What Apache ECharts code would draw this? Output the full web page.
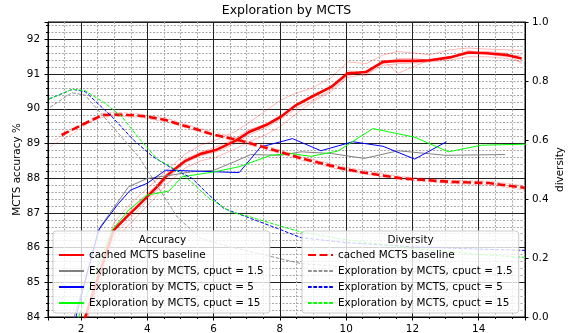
<!DOCTYPE html>
<html><head><meta charset="utf-8">
<script src="https://cdn.jsdelivr.net/npm/echarts@6/dist/echarts.min.js"></script>
<style>html,body{margin:0;padding:0;background:#fff}#c{width:568px;height:333px}</style>
</head><body><div id="c"></div>
<script>
// ---------- data ----------
const chartTitle = 'Exploration by MCTS';
const seriesNames = ['cached MCTS baseline', 'Exploration by MCTS, cpuct = 1.5', 'Exploration by MCTS, cpuct = 5', 'Exploration by MCTS, cpuct = 15'];

// accuracy (left axis)
const baselineAccX = [2.09,2.98,3.33,3.64,3.99,4.29,4.55,4.85,5.15,5.61,6.06,6.67,7.07,7.58,8.03,8.48,8.99,9.55,10.05,10.61,11.11,11.57,12.12,12.52,13.13,13.69,14.24,14.85,15.30];
const baselineAccY = [83.9,86.50,86.84,87.13,87.46,87.75,88.04,88.28,88.50,88.70,88.81,89.08,89.33,89.53,89.77,90.10,90.36,90.63,91.02,91.06,91.35,91.38,91.38,91.40,91.48,91.62,91.60,91.55,91.45];
const run1AccY = [83.95,86.7,87.1,87.4,87.7,87.95,88.2,88.45,88.7,88.95,89.1,89.35,89.6,89.95,90.25,90.45,90.6,90.9,91.35,91.3,91.55,91.65,91.6,91.55,91.7,91.75,91.72,91.7,91.68];
const run2AccY = [83.7,86.2,86.55,86.85,87.2,87.5,87.8,88.05,88.3,88.5,88.6,88.85,89.05,89.25,89.5,89.85,90.2,90.5,90.9,91.0,91.25,91.3,91.32,91.35,91.4,91.5,91.5,91.45,91.35];
const run3AccY = [83.85,86.45,86.9,87.25,87.55,87.8,88.1,88.3,88.55,88.75,88.9,89.15,89.4,89.55,89.8,90.1,90.35,90.6,91.1,90.95,91.4,91.02,91.25,91.4,91.5,91.6,91.65,91.6,91.3];
const run4AccY = [83.8,86.35,86.7,87.0,87.35,87.65,87.95,88.2,88.45,88.65,88.75,89.0,89.25,89.45,89.7,90.0,90.25,90.55,90.95,91.1,91.3,91.45,91.45,91.38,91.45,91.68,91.58,91.5,91.55];

const grayAccX = [1.76,2.58,3.43,3.99,4.80,5.30,6.01,6.62,7.12,8.03,8.64,9.55,10.55,11.57,12.98,14.80];
const grayAccY = [83.9,86.6,87.75,87.99,88.10,88.18,88.23,88.47,88.68,88.66,88.76,88.71,88.57,88.79,88.66,88.68];
const blueAccX = [1.79,2.52,3.13,3.48,3.99,4.55,5.30,6.77,7.42,8.03,8.38,9.24,10.20,11.11,12.07,13.03];
const blueAccY = [83.8,86.50,87.27,87.65,87.85,88.23,88.21,88.16,88.90,89.05,89.14,88.79,89.05,88.92,88.55,89.05];
const greenAccX = [1.88,2.93,3.43,3.99,4.65,5.05,6.01,6.77,7.73,8.33,8.94,9.75,10.81,12.07,13.09,14.09,15.45];
const greenAccY = [83.9,86.5,87.08,87.51,87.63,88.04,88.18,88.33,88.66,88.71,88.63,88.78,89.43,89.18,88.76,88.95,88.98];

// diversity (right axis)
const baselineDivX = [1.41,2.0,2.63,3.0,3.64,4.0,4.55,5.0,5.5,6.0,6.73,7.58,8.64,9.85,10.5,11.67,13.18,14.3,15.4];
const baselineDivY = [0.617,0.650,0.684,0.686,0.684,0.679,0.668,0.652,0.636,0.618,0.600,0.574,0.538,0.504,0.490,0.470,0.458,0.454,0.438];
const run1DivX = [1.06,1.5,2.0,2.63,3.0,3.64,4.55,5.5,6.73,7.58,8.64,9.85,11.67,13.18,14.3,15.4];
const run1DivY = [0.577,0.605,0.640,0.690,0.694,0.690,0.675,0.642,0.606,0.580,0.545,0.510,0.476,0.464,0.460,0.445];
const run2DivX = [1.2,1.6,2.0,2.63,3.0,3.64,4.55,5.5,6.73,7.58,8.64,9.85,11.67,13.18,14.3,15.4];
const run2DivY = [0.600,0.625,0.650,0.676,0.680,0.678,0.662,0.630,0.594,0.568,0.532,0.498,0.465,0.452,0.448,0.430];
const grayDivX = [1.06,1.72,2.12,3.74,4.90,5.61,6.42,8.64,10.5,12.5,14.8];
const grayDivY = [0.711,0.760,0.752,0.543,0.339,0.266,0.240,0.181,0.165,0.152,0.145];
const blueDivX = [1.03,1.74,2.12,2.93,3.58,4.15,4.65,5.35,5.81,6.31,7.12,7.93,8.64,10.0,12.0,14.0,15.4];
const blueDivY = [0.739,0.772,0.764,0.679,0.600,0.545,0.510,0.470,0.419,0.368,0.334,0.300,0.269,0.252,0.238,0.230,0.226];
const greenDivX = [1.03,1.74,2.12,2.73,3.23,3.79,4.3,5.0,5.45,5.81,6.52,7.12,7.93,8.64,10.0,12.0,14.0,15.4];
const greenDivY = [0.739,0.772,0.767,0.724,0.679,0.600,0.535,0.490,0.445,0.407,0.356,0.339,0.311,0.288,0.262,0.232,0.212,0.202];

// ---------- chart ----------
const FONT = 'DejaVu Sans';
const FS = 10.4;
const pts = (xs, ys) => xs.map((x, i) => [x, ys[i]]);
const DIV = 'D: ';
const pink = 'rgba(255,0,0,0.28)';

function line(name, xs, ys, color, width, type, yAxisIndex, z) {
  return {
    name, type: 'line', data: pts(xs, ys), yAxisIndex, xAxisIndex: 0,
    symbol: 'none', showSymbol: false, silent: true, z: z,
    lineStyle: { color, width, type, cap: 'butt' }, itemStyle: { color },
    emphasis: { disabled: true }
  };
}

const series = [
  line('run1 acc', baselineAccX, run1AccY, pink, 1, 'solid', 0, 2),
  line('run2 acc', baselineAccX, run2AccY, pink, 1, 'solid', 0, 2),
  line('run3 acc', baselineAccX, run3AccY, pink, 1, 'solid', 0, 2),
  line('run4 acc', baselineAccX, run4AccY, pink, 1, 'solid', 0, 2),
  line('run1 div', run1DivX, run1DivY, pink, 1, [4, 1.6], 1, 2),
  line('run2 div', run2DivX, run2DivY, pink, 1, [4, 1.6], 1, 2),
  line(seriesNames[0], baselineAccX, baselineAccY, '#ff0000', 2.6, 'solid', 0, 3),
  line(seriesNames[1], grayAccX, grayAccY, '#808080', 1, 'solid', 0, 3),
  line(seriesNames[2], blueAccX, blueAccY, '#0000ff', 1, 'solid', 0, 3),
  line(seriesNames[3], greenAccX, greenAccY, '#00ff00', 1, 'solid', 0, 3),
  line(DIV + seriesNames[0], baselineDivX, baselineDivY, '#ff0000', 2.6, [8, 3.5], 1, 3),
  line(DIV + seriesNames[1], grayDivX, grayDivY, '#909090', 1, [3.7, 1.6], 1, 3),
  line(DIV + seriesNames[2], blueDivX, blueDivY, '#0000ff', 1, [3.7, 1.6], 1, 3),
  line(DIV + seriesNames[3], greenDivX, greenDivY, '#00ff00', 1, [3.7, 1.6], 1, 3)
];

const legendCommon = {
  orient: 'vertical', top: 231, itemWidth: 25, itemHeight: 12, itemGap: 4,
  padding: [18, 6, 4, 5], backgroundColor: 'rgba(255,255,255,0.8)',
  borderColor: '#cccccc', borderWidth: 1, borderRadius: 3, selectedMode: false,
  itemStyle: { color: 'rgba(0,0,0,0)', borderColor: 'rgba(0,0,0,0)', borderWidth: 0, opacity: 0 },
  textStyle: { fontSize: FS, color: '#000', fontFamily: FONT, lineHeight: 12 },
  formatter: n => n.replace(DIV, ''), z: 20
};

const majorGrid = { show: true, lineStyle: { color: '#222', width: 1, type: 'solid' } };
const minorGrid = { show: true, lineStyle: { color: '#a8a8a8', width: 1, type: [2, 1.5] } };
const labelStyle = { fontSize: FS, color: '#000', fontFamily: FONT };

const option = {
  animation: false,
  backgroundColor: '#fff',
  grid: { left: 48, right: 43, top: 22, bottom: 16, show: true, borderColor: '#000', borderWidth: 1, backgroundColor: 'transparent', containLabel: false, outerBoundsMode: 'none' },
  xAxis: [{
    type: 'value', min: 1, max: 15.4, splitNumber: 7,
    axisLine: { show: true, onZero: false, lineStyle: { color: '#000', width: 1 } },
    axisTick: { show: true, length: 3.5, lineStyle: { color: '#000' } },
    minorTick: { show: true, splitNumber: 4, length: 2, lineStyle: { color: '#000' } },
    axisLabel: Object.assign({ margin: 7.5, formatter: v => (Math.abs(v % 2) < 1e-9 ? String(v) : '') }, labelStyle),
    splitLine: majorGrid, minorSplitLine: minorGrid
  }],
  yAxis: [{
    type: 'value', position: 'left', min: 84, max: 92.5, splitNumber: 8,
    name: 'MCTS accuracy %', nameLocation: 'middle', nameGap: 26, nameRotate: 90, nameMoveOverlap: false,
    nameTextStyle: { fontSize: FS, color: '#000', fontFamily: FONT },
    axisLine: { show: true, lineStyle: { color: '#000', width: 1 } },
    axisTick: { show: true, length: 3.5, lineStyle: { color: '#000' } },
    minorTick: { show: true, splitNumber: 5, length: 2, lineStyle: { color: '#000' } },
    axisLabel: Object.assign({ margin: 8, formatter: v => (Math.abs(v - Math.round(v)) < 1e-9 ? String(Math.round(v)) : '') }, labelStyle),
    splitLine: majorGrid, minorSplitLine: minorGrid
  }, {
    type: 'value', position: 'right', min: 0, max: 1, interval: 0.2,
    name: 'diversity', nameLocation: 'middle', nameGap: 30, nameRotate: 90, nameMoveOverlap: false,
    nameTextStyle: { fontSize: FS, color: '#000', fontFamily: FONT },
    axisLine: { show: true, lineStyle: { color: '#000', width: 1 } },
    axisTick: { show: true, length: 3.5, lineStyle: { color: '#000' } },
    axisLabel: Object.assign({ margin: 7, formatter: v => v.toFixed(1) }, labelStyle),
    splitLine: { show: false }
  }],
  legend: [
    Object.assign({ left: 53, data: seriesNames.slice() }, legendCommon),
    Object.assign({ left: 302, data: seriesNames.map(n => DIV + n) }, legendCommon)
  ],
  graphic: [
    { type: 'text', x: 286.5, y: 11, z: 50, style: { text: chartTitle, font: '12.5px "DejaVu Sans"', fill: '#000', textAlign: 'center', textVerticalAlign: 'middle' } },
    { type: 'text', x: 162.5, y: 240, z: 50, style: { text: 'Accuracy', font: FS + 'px "DejaVu Sans"', fill: '#000', textAlign: 'center', textVerticalAlign: 'middle' } },
    { type: 'text', x: 410.5, y: 240, z: 50, style: { text: 'Diversity', font: FS + 'px "DejaVu Sans"', fill: '#000', textAlign: 'center', textVerticalAlign: 'middle' } }
  ],
  series
};

const chart = echarts.init(document.getElementById('c'), null, { renderer: 'canvas' });
chart.setOption(option);
</script>
</body></html>
